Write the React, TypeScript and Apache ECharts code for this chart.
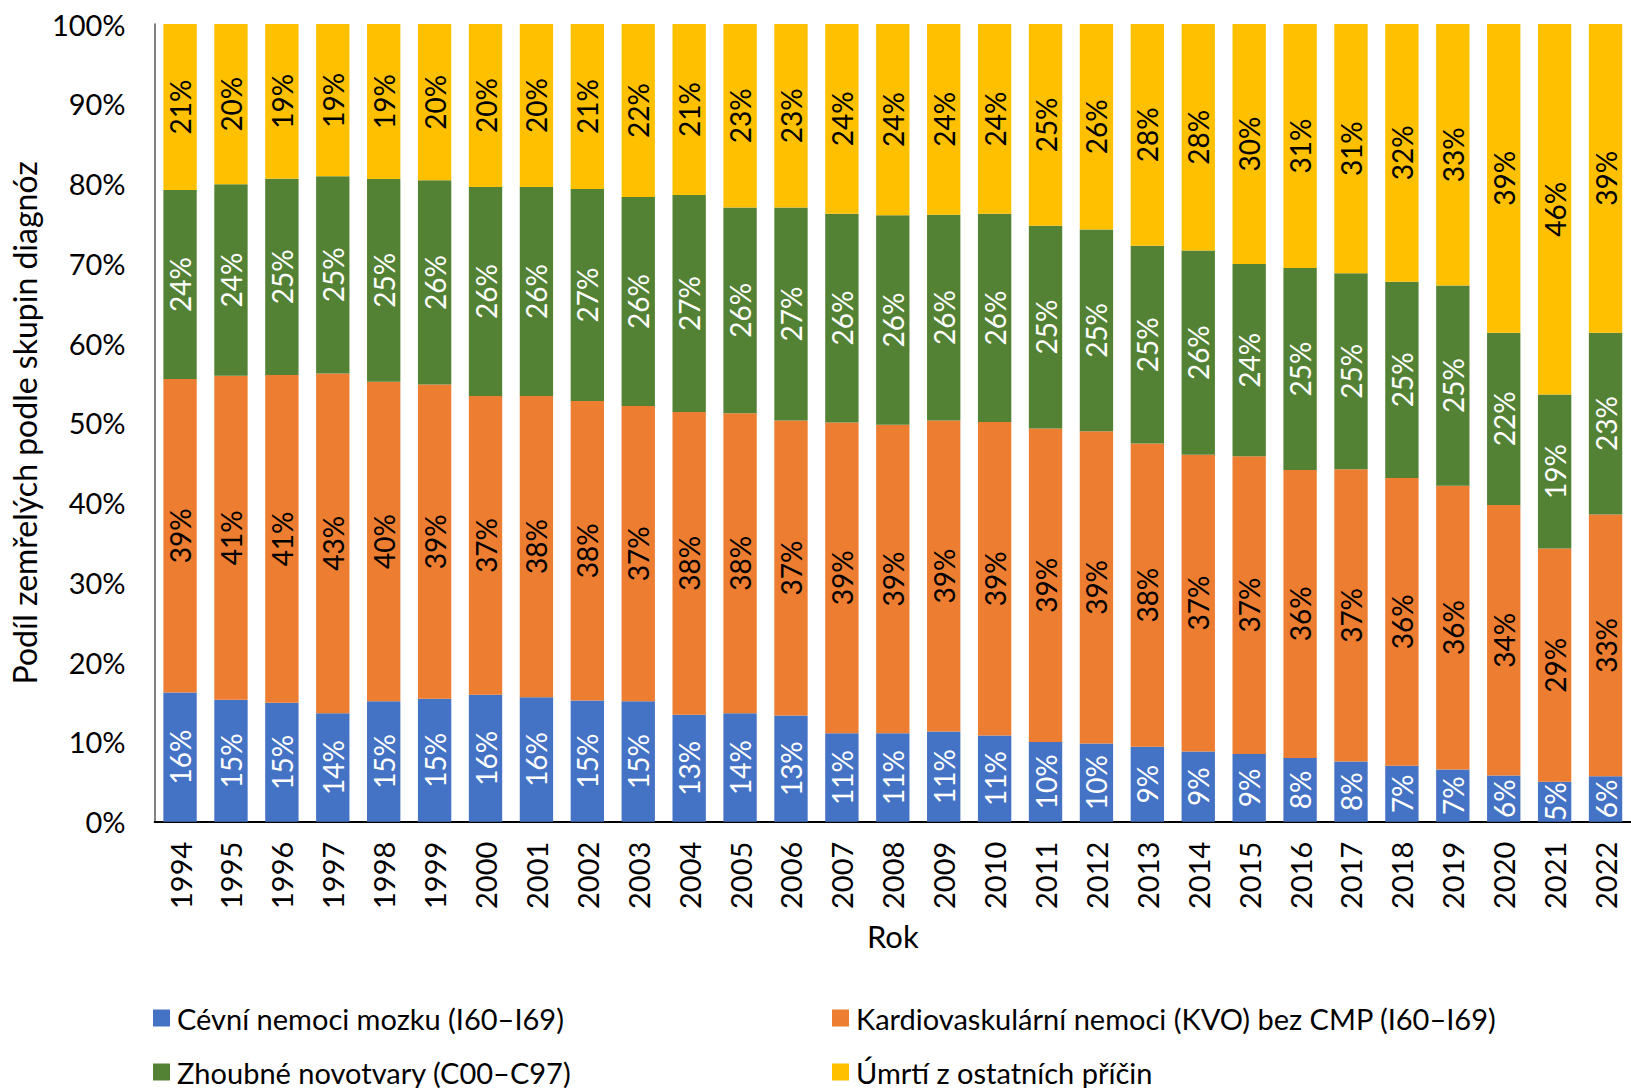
import React, { useEffect, useRef } from 'react';
import * as echarts from 'echarts';

const years = ['1994','1995','1996','1997','1998','1999','2000','2001','2002','2003','2004','2005','2006','2007','2008','2009','2010','2011','2012','2013','2014','2015','2016','2017','2018','2019','2020','2021','2022'];

const seriesNames = [
  'Cévní nemoci mozku (I60–I69)',
  'Kardiovaskulární nemoci (KVO) bez CMP (I60–I69)',
  'Zhoubné novotvary (C00–C97)',
  'Úmrtí z ostatních příčin',
];

const cevni = [16.2,15.3,14.9,13.6,15.1,15.4,15.9,15.6,15.2,15.1,13.4,13.6,13.3,11.1,11.1,11.3,10.8,10.0,9.8,9.4,8.8,8.5,8.0,7.55,7.0,6.55,5.8,5.0,5.7];
const kvo = [39.3,40.6,41.1,42.6,40.0,39.4,37.4,37.7,37.6,37.0,37.9,37.6,37.0,39.0,38.7,39.0,39.3,39.3,39.2,38.0,37.2,37.3,36.1,36.7,36.1,35.6,33.9,29.2,32.8];
const novotvary = [23.7,24.0,24.6,24.7,25.4,25.6,26.2,26.2,26.6,26.2,27.2,25.8,26.7,26.2,26.3,25.8,26.1,25.4,25.3,24.8,25.6,24.1,25.3,24.6,24.6,25.1,21.6,19.3,22.8];
const ostatni = [20.8,20.1,19.4,19.1,19.4,19.6,20.4,20.4,20.7,21.7,21.4,23.0,23.0,23.8,24.0,23.9,23.8,25.3,25.8,27.8,28.4,30.1,30.6,31.3,32.3,32.8,38.7,46.4,38.7];

const colors = ['#4472C4', '#ED7D31', '#548235', '#FFC000'];
const labelColors = ['#ffffff', '#000000', '#ffffff', '#000000'];

const FONT = 'Lato';

export default function App() {
  const ref = useRef<HTMLDivElement>(null);

  useEffect(() => {
    if (!ref.current) return;
    document.body.style.overflow = 'hidden';
    const chart = echarts.init(ref.current, undefined, { renderer: 'svg' });

    const raw = [cevni, kvo, novotvary, ostatni];
    const totals = years.map((_, i) => raw.reduce((s, arr) => s + arr[i], 0));
    const shares = raw.map(arr => arr.map((v, i) => (v / totals[i]) * 100));

    const series = shares.map((data, k) => ({
      name: seriesNames[k],
      type: 'bar',
      stack: 'total',
      data,
      barCategoryGap: '34.5%',
      itemStyle: { color: colors[k] },
      label: {
        show: true,
        position: 'inside',
        rotate: 90,
        align: 'center',
        verticalAlign: 'middle',
        color: labelColors[k],
        fontFamily: FONT,
        fontSize: 28,
        formatter: (p: any) => Math.round(p.value) + '%',
      },
    }));

    // legend positions: [left, rowCenterY]
    const legendPos = [
      [153, 1018],
      [832, 1018],
      [153, 1072],
      [832, 1072],
    ];
    const legends = seriesNames.map((n, k) => ({
      data: [n],
      orient: 'horizontal',
      left: legendPos[k][0],
      top: legendPos[k][1] - 15,
      padding: 0,
      itemWidth: 17,
      itemHeight: 17,
      icon: 'rect',
      textStyle: { fontFamily: FONT, fontSize: 29, color: '#000', lineHeight: 30, padding: [0, 0, 0, 2] },
    }));

    chart.setOption({
      animation: false,
      textStyle: { fontFamily: FONT },
      grid: { left: 154.6, right: -11, top: 24, bottom: 266.3, containLabel: false },
      legend: legends,
      xAxis: {
        type: 'category',
        data: years,
        name: 'Rok',
        nameLocation: 'middle',
        nameGap: 99,
        nameTextStyle: { fontFamily: FONT, fontSize: 31, color: '#000' },
        axisLine: { show: true, lineStyle: { color: '#000', width: 2 } },
        axisTick: { show: false },
        axisLabel: { rotate: 90, margin: 20, fontFamily: FONT, fontSize: 29, color: '#000' },
      },
      yAxis: {
        type: 'value',
        min: 0,
        max: 100,
        interval: 10,
        name: 'Podíl zemřelých podle skupin diagnóz',
        nameLocation: 'middle',
        nameGap: 112,
        nameTextStyle: { fontFamily: FONT, fontSize: 32, color: '#000' },
        axisLine: { show: true, lineStyle: { color: '#595959', width: 1.5 } },
        axisTick: { show: false },
        splitLine: { show: false },
        axisLabel: { formatter: '{value}%', margin: 29, fontFamily: FONT, fontSize: 29, color: '#000' },
      },
      series,
    });

    return () => chart.dispose();
  }, []);

  return (
    <div
      ref={ref}
      style={{ position: 'fixed', left: 0, top: 0, width: 1631, height: 1088, background: '#fff' }}
    />
  );
}
